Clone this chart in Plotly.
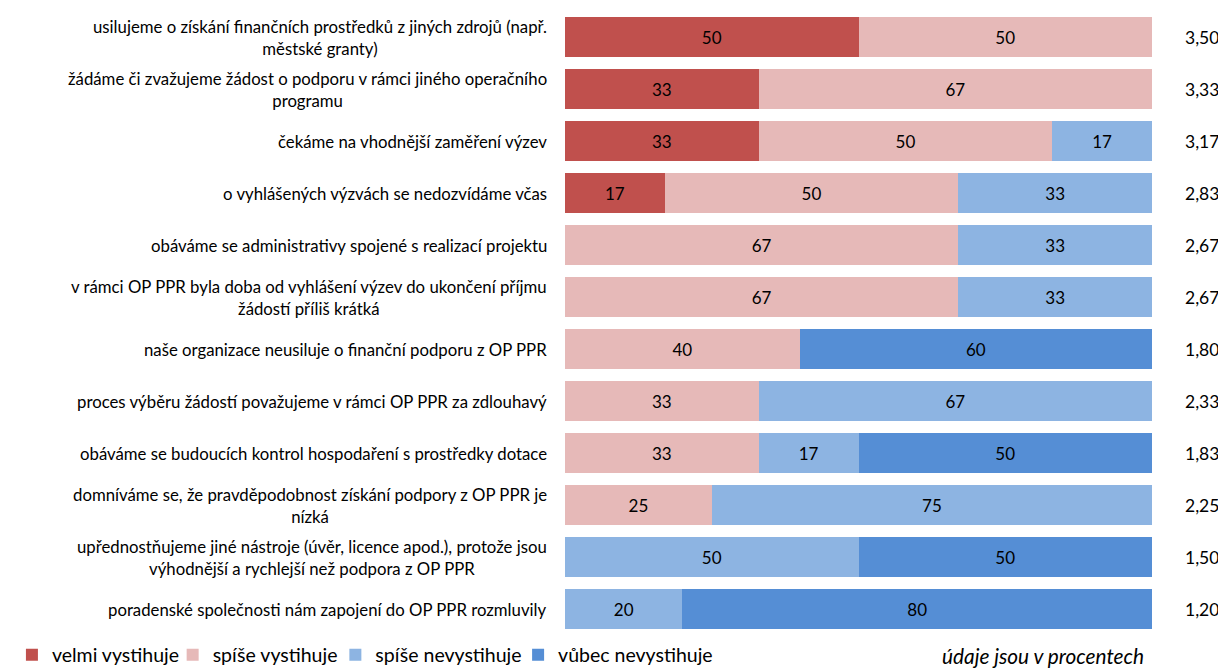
import plotly.graph_objects as go

categories = [
    "usilujeme o získání finančních prostředků z jiných zdrojů (např.<br>městské granty)",
    "žádáme či zvažujeme žádost o podporu v rámci jiného operačního<br>programu",
    "čekáme na vhodnější zaměření výzev",
    "o vyhlášených výzvách se nedozvídáme včas",
    "obáváme se administrativy spojené s realizací projektu",
    "v rámci OP PPR byla doba od vyhlášení výzev do ukončení příjmu<br>žádostí příliš krátká",
    "naše organizace neusiluje o finanční podporu z OP PPR",
    "proces výběru žádostí považujeme v rámci OP PPR za zdlouhavý",
    "obáváme se budoucích kontrol hospodaření s prostředky dotace",
    "domníváme se, že pravděpodobnost získání podpory z OP PPR je<br>nízká",
    "upřednostňujeme jiné nástroje (úvěr, licence apod.), protože jsou<br>výhodnější a rychlejší než podpora z OP PPR",
    "poradenské společnosti nám zapojení do OP PPR rozmluvily",
]
velmi_vystihuje = [50, 33, 33, 17, 0, 0, 0, 0, 0, 0, 0, 0]
spise_vystihuje = [50, 67, 50, 50, 67, 67, 40, 33, 33, 25, 0, 0]
spise_nevystihuje = [0, 0, 17, 33, 33, 33, 0, 67, 17, 75, 50, 20]
vubec_nevystihuje = [0, 0, 0, 0, 0, 0, 60, 0, 50, 0, 50, 80]
averages = ["3,50", "3,33", "3,17", "2,83", "2,67", "2,67", "1,80", "2,33", "1,83", "2,25", "1,50", "1,20"]
series_names = ["velmi vystihuje", "spíše vystihuje", "spíše nevystihuje", "vůbec nevystihuje"]
colors = ["#C0504D", "#E6B9B8", "#8DB4E2", "#558ED5"]
note = "údaje jsou v procentech"

FONT = "Lato"
ids = list(range(len(categories)))
legend_ids = ["legend", "legend2", "legend3", "legend4"]
legend_x = [-0.9422, -0.6684, -0.3912, -0.0799]

fig = go.Figure()
for name, vals, col, lg in zip(series_names,
                               [velmi_vystihuje, spise_vystihuje, spise_nevystihuje, vubec_nevystihuje],
                               colors, legend_ids):
    fig.add_trace(go.Bar(
        y=ids, x=vals, name=name, orientation="h", legend=lg,
        marker=dict(color=col, line=dict(width=0)),
        text=[str(v) if v else "" for v in vals],
        textposition="inside", insidetextanchor="middle",
        textfont=dict(color="black", size=17, family=FONT),
        constraintext="none",
    ))

for i, (cat, avg) in enumerate(zip(categories, averages)):
    fig.add_annotation(x=0, y=i, xref="paper", yref="y", text=cat,
                       xanchor="right", yanchor="middle", align="center",
                       xshift=-16, showarrow=False,
                       font=dict(size=16.75, color="black", family=FONT))
    fig.add_annotation(x=1, y=i, xref="paper", yref="y", text=avg,
                       xanchor="left", yanchor="middle", xshift=31,
                       showarrow=False,
                       font=dict(size=17.5, color="black", family=FONT))

fig.add_annotation(xref="paper", yref="paper", x=0.99, y=-0.033,
                   text="<i>" + note + "</i>", xanchor="right", yanchor="middle",
                   showarrow=False, font=dict(size=20.8, color="black", family=FONT))

legend_style = dict(orientation="h", y=-0.032, xanchor="left", yanchor="middle",
                    font=dict(size=19.5, family=FONT, color="black"),
                    itemwidth=30, bgcolor="rgba(0,0,0,0)")
layout_legends = {lg: dict(legend_style, x=lx) for lg, lx in zip(legend_ids, legend_x)}

fig.update_layout(
    barmode="stack",
    bargap=0.24,
    width=1226, height=669,
    margin=dict(l=556, r=82, t=3, b=40),
    paper_bgcolor="white", plot_bgcolor="white",
    font=dict(family=FONT, size=15, color="black"),
    xaxis=dict(range=[0, 100], visible=False, fixedrange=True),
    yaxis=dict(range=[11.5, -0.5], visible=False, fixedrange=True),
    showlegend=True,
    **layout_legends,
)

fig.write_html("out.html")
